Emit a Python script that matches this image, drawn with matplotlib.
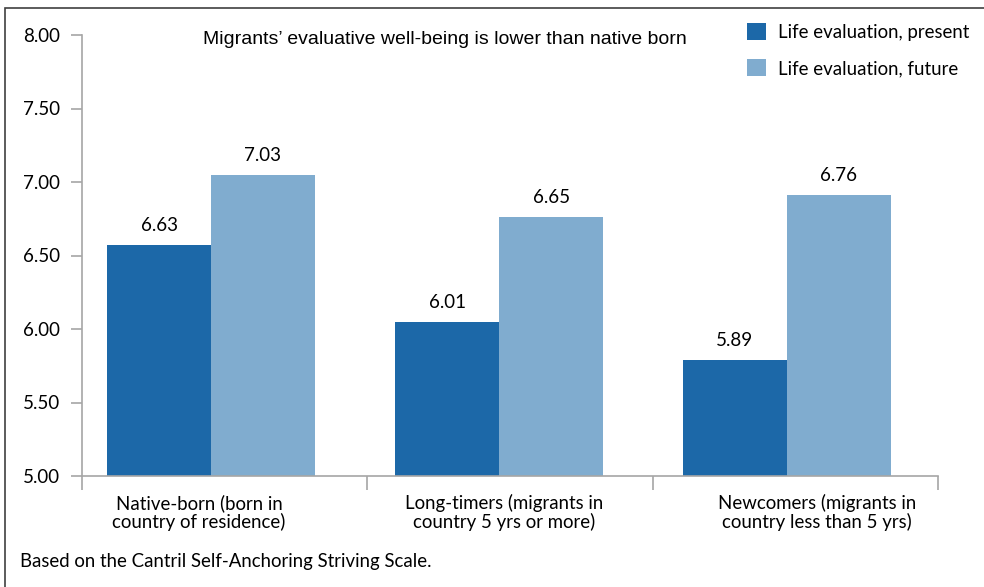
import matplotlib.pyplot as plt
import matplotlib.patches as mpatches
import numpy as np

categories = ['Native-born (born in\ncountry of residence)',
              'Long-timers (migrants in\ncountry 5 yrs or more)',
              'Newcomers (migrants in\ncountry less than 5 yrs)']
series = ['Life evaluation, present', 'Life evaluation, future']
# bar heights as drawn in the picture
present = [6.57, 6.05, 5.79]
future = [7.05, 6.76, 6.91]
# value labels printed above the bars
present_labels = ['6.63', '6.01', '5.89']
future_labels = ['7.03', '6.65', '6.76']
yticks = [5.0, 5.5, 6.0, 6.5, 7.0, 7.5, 8.0]

c_present = '#1c68a8'
c_future = '#80accf'
axis_grey = '#a6a6a6'
font = ['Lato', 'DejaVu Sans']

fig = plt.figure(figsize=(9.84, 5.87), dpi=100)
ax = fig.add_axes([82/984, 1 - 476/587, 856/984, 441/587])

x = np.arange(len(categories))
shift = np.array([-0.048, -0.038, -0.030])  # bars sit a bit left of centre
w = 0.364
b1 = ax.bar(x + shift - w/2, np.array(present) - 5, w, bottom=5, color=c_present,
            label=series[0])
b2 = ax.bar(x + shift + w/2, np.array(future) - 5, w, bottom=5, color=c_future,
            label=series[1])
ax.bar_label(b1, labels=present_labels, padding=8, fontsize=13.5, family=font)
ax.bar_label(b2, labels=future_labels, padding=8, fontsize=13.5, family=font)

ax.set_xlim(-0.5, 2.5)
ax.set_ylim(5, 8)
ax.set_yticks(yticks)
ax.set_yticklabels(['%.2f' % v for v in yticks], fontsize=13.5, family=font)
ax.set_xticks([-0.5, 0.5, 1.5, 2.5])
ax.set_xticklabels([])
ax.tick_params(axis='y', length=8, width=1.2, color=axis_grey, pad=8)
ax.tick_params(axis='x', length=10, width=1.2, color=axis_grey)

for s in ['top', 'right']:
    ax.spines[s].set_visible(False)
for s in ['left', 'bottom']:
    ax.spines[s].set_color(axis_grey)
    ax.spines[s].set_linewidth(1.2)

# category labels, placed as in the original
lab_shift = [-0.09, -0.02, 0.077]
for i, c in enumerate(categories):
    ax.text(x[i] + lab_shift[i], 4.875, c, ha='center', va='top', fontsize=13.4,
            family=font, linespacing=1.05)

fig.text(445/984, 1 - 40/587, "Migrants\u2019 evaluative well-being is lower than native born",
         ha='center', va='center', fontsize=14, family='Liberation Sans')

ax.legend(loc='upper left', bbox_to_anchor=(747/984, 1 - 23/587),
          bbox_transform=fig.transFigure, frameon=False, handlelength=1.0,
          handleheight=1.0, handletextpad=0.65, labelspacing=1.0,
          prop={'family': font, 'size': 13.4}, borderaxespad=0, borderpad=0)

fig.text(20/984, 1 - 562/587, 'Based on the Cantril Self-Anchoring Striving Scale.',
         ha='left', va='center', fontsize=13.4, family=font)

# outer frame (cropped on the right and bottom)
fig.add_artist(mpatches.Rectangle((5/984, -0.1), 1.2, 1.1 - 8/587,
                                  transform=fig.transFigure, fill=False,
                                  edgecolor='#404040', linewidth=1.2))

fig.savefig('out.png', dpi=100)
